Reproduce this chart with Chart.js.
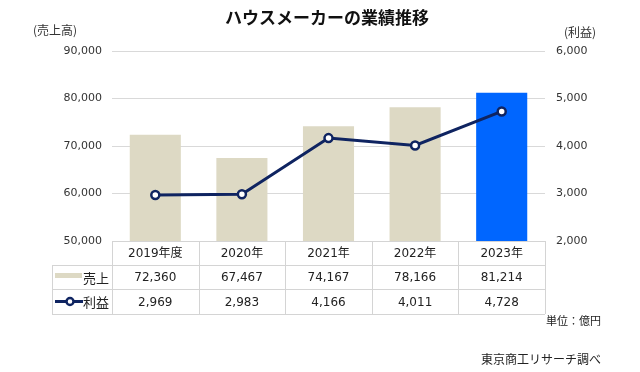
<!DOCTYPE html>
<html>
<head>
<meta charset="utf-8">
<script src="https://cdn.jsdelivr.net/npm/chart.js@4/dist/chart.umd.min.js"></script>
<style>
  body { margin: 0; background: #fff; }
  #wrap { width: 640px; height: 372px; position: relative; }
</style>
</head>
<body>
<div id="wrap"><canvas id="myChart"></canvas></div>
<script>
const years = ["2019年度", "2020年", "2021年", "2022年", "2023年"];
const sales = [72360, 67467, 74167, 78166, 81214];
const profit = [2969, 2983, 4166, 4011, 4728];
const barColors = ["#DDD9C4", "#DDD9C4", "#DDD9C4", "#DDD9C4", "#0066FF"];

const FONT = '"DejaVu Sans", "Noto Sans CJK JP", sans-serif';
const JP = '"Noto Sans CJK JP", sans-serif';
const NAVY = "#0F2461";
const fmt = v => v.toLocaleString("en-US");

// title, axis captions, data table and notes
const extras = {
  id: "extras",
  afterDraw(chart) {
    const ctx = chart.ctx;
    const area = chart.chartArea;
    const xs = chart.scales.x;
    const tLeft = 52, r1 = area.bottom, r2 = 265, r3 = 289, r4 = 314;

    ctx.save();
    ctx.fillStyle = "#111";
    ctx.font = "bold 17px " + JP;
    ctx.textAlign = "center";
    ctx.textBaseline = "middle";
    ctx.fillText("ハウスメーカーの業績推移", 327, 18);

    ctx.font = "12px " + JP;
    ctx.fillStyle = "#333";
    ctx.textAlign = "left";
    ctx.fillText("(売上高)", 33, 30);
    ctx.fillText("(利益)", 564, 32);

    // table grid
    ctx.strokeStyle = "#d4d4d4";
    ctx.lineWidth = 1;
    ctx.beginPath();
    ctx.moveTo(area.left, r1 + 0.5); ctx.lineTo(area.right, r1 + 0.5);
    [r2, r3, r4].forEach(y => { ctx.moveTo(tLeft, y + 0.5); ctx.lineTo(area.right, y + 0.5); });
    ctx.moveTo(tLeft + 0.5, r2); ctx.lineTo(tLeft + 0.5, r4);
    const colW = (area.right - area.left) / years.length;
    for (let i = 0; i <= years.length; i++) {
      const x = Math.round(area.left + i * colW) + 0.5;
      ctx.moveTo(x, r1); ctx.lineTo(x, r4);
    }
    ctx.stroke();

    ctx.fillStyle = "#222";
    ctx.textAlign = "center";
    ctx.font = "12px " + FONT;
    years.forEach((y, i) => {
      const cx = xs.getPixelForValue(i);
      ctx.fillText(y, cx, (r1 + r2) / 2 + 1);
      ctx.fillText(fmt(sales[i]), cx, (r2 + r3) / 2 + 1);
      ctx.fillText(fmt(profit[i]), cx, (r3 + r4) / 2 + 1);
    });

    // row legends
    ctx.fillStyle = "#DDD9C4";
    ctx.fillRect(55, 273, 27, 5);
    ctx.strokeStyle = NAVY;
    ctx.lineWidth = 3;
    ctx.beginPath();
    ctx.moveTo(55, 301.5); ctx.lineTo(83, 301.5);
    ctx.stroke();
    ctx.beginPath();
    ctx.arc(70, 301.5, 3.5, 0, Math.PI * 2);
    ctx.fillStyle = "#fff";
    ctx.fill();
    ctx.lineWidth = 2.5;
    ctx.stroke();

    ctx.fillStyle = "#222";
    ctx.textAlign = "left";
    ctx.font = "13px " + JP;
    ctx.fillText("売上", 83, (r2 + r3) / 2 + 1);
    ctx.fillText("利益", 83, (r3 + r4) / 2 + 1);

    ctx.font = "11px " + JP;
    ctx.fillText("単位：億円", 546, 321);
    ctx.font = "12px " + JP;
    ctx.fillText("東京商工リサーチ調べ", 481, 359);
    ctx.restore();
  }
};

const ctx = document.getElementById("myChart").getContext("2d");

new Chart(ctx, {
  type: "bar",
  data: {
    labels: years,
    datasets: [
      {
        type: "line",
        label: "利益",
        data: profit,
        yAxisID: "y1",
        borderColor: NAVY,
        borderWidth: 3,
        pointRadius: 4,
        pointBorderWidth: 2.5,
        pointBackgroundColor: "#fff",
        pointBorderColor: NAVY,
        tension: 0,
        order: 0
      },
      {
        label: "売上",
        data: sales,
        yAxisID: "y",
        backgroundColor: barColors,
        barPercentage: 0.59,
        categoryPercentage: 1,
        order: 1
      }
    ]
  },
  options: {
    responsive: true,
    maintainAspectRatio: false,
    animation: false,
    layout: { padding: { top: 51, bottom: 131, left: 0, right: 0 } },
    plugins: {
      legend: { display: false },
      tooltip: { enabled: false }
    },
    scales: {
      x: { display: false },
      y: {
        position: "left",
        min: 50000,
        max: 90000,
        ticks: {
          stepSize: 10000,
          padding: 10,
          color: "#333",
          font: { family: FONT, size: 11 },
          callback: v => fmt(v)
        },
        grid: { color: "#d9d9d9", drawTicks: false },
        border: { display: false },
        afterFit: s => { s.width = 112; }
      },
      y1: {
        position: "right",
        min: 2000,
        max: 6000,
        ticks: {
          stepSize: 1000,
          padding: 11,
          color: "#333",
          font: { family: FONT, size: 11 },
          callback: v => fmt(v)
        },
        grid: { display: false, drawTicks: false },
        border: { display: false },
        afterFit: s => { s.width = 95; }
      }
    }
  },
  plugins: [extras]
});
</script>
</body>
</html>
